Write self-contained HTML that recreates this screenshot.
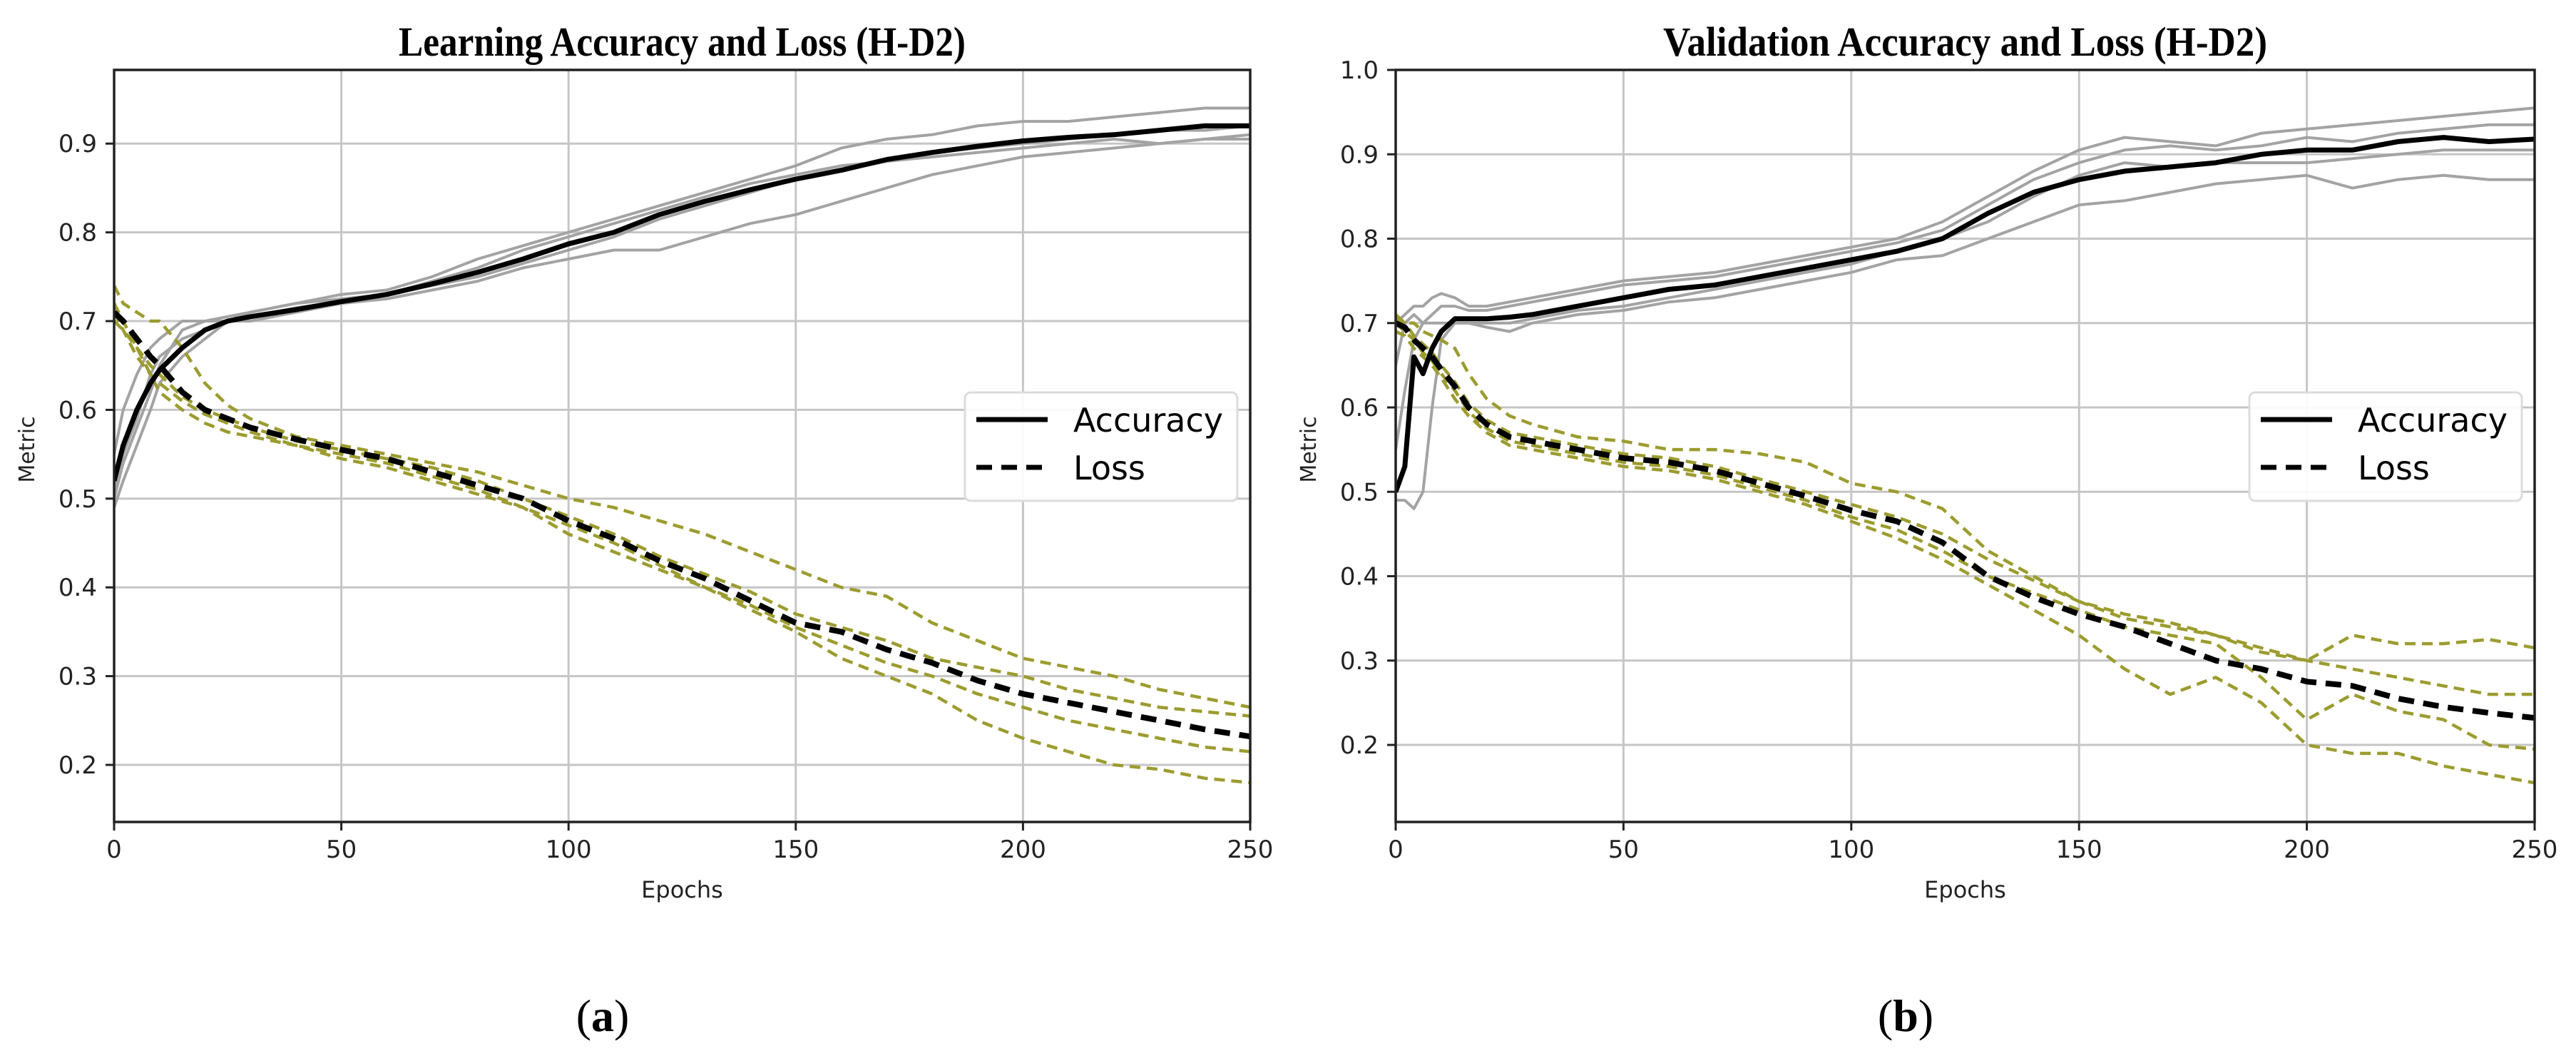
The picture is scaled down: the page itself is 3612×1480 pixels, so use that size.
<!DOCTYPE html>
<html><head><meta charset="utf-8"><style>
html,body{margin:0;padding:0;background:#fff;}
svg{display:block;}
</style></head><body>
<svg id="fig" width="3612" height="1480" viewBox="0 0 3612 1480" xmlns="http://www.w3.org/2000/svg"></svg>
<script>
// ---------- data: chart (a) learning ----------
const epochsL = [0,2,5,8,10,15,20,25,30,40,50,60,70,80,90,100,110,120,130,140,150,160,170,180,190,200,210,220,230,240,250];
const accMeanL = [0.52,0.56,0.60,0.63,0.645,0.67,0.69,0.70,0.705,0.713,0.722,0.73,0.742,0.755,0.77,0.787,0.80,0.82,0.835,0.848,0.86,0.87,0.882,0.89,0.897,0.903,0.907,0.91,0.915,0.92,0.92];
const accRunL1 = [0.55,0.60,0.64,0.67,0.68,0.70,0.70,0.705,0.71,0.72,0.73,0.735,0.75,0.77,0.785,0.80,0.815,0.83,0.845,0.86,0.875,0.895,0.905,0.91,0.92,0.925,0.925,0.93,0.935,0.94,0.94];
const accRunL2 = [0.49,0.52,0.56,0.60,0.63,0.66,0.68,0.70,0.70,0.71,0.72,0.725,0.735,0.745,0.76,0.77,0.78,0.78,0.795,0.81,0.82,0.835,0.85,0.865,0.875,0.885,0.89,0.895,0.90,0.905,0.905];
const accRunL3 = [0.51,0.55,0.59,0.64,0.66,0.68,0.69,0.70,0.71,0.72,0.725,0.73,0.745,0.76,0.78,0.795,0.81,0.825,0.84,0.855,0.865,0.875,0.88,0.885,0.89,0.895,0.90,0.905,0.90,0.905,0.91];
const accRunL4 = [0.50,0.54,0.58,0.62,0.65,0.69,0.70,0.70,0.705,0.715,0.722,0.73,0.74,0.75,0.765,0.78,0.795,0.815,0.83,0.845,0.86,0.87,0.88,0.89,0.895,0.90,0.905,0.91,0.915,0.915,0.92];
const lossMeanL = [0.71,0.70,0.68,0.66,0.65,0.62,0.60,0.59,0.58,0.567,0.555,0.545,0.53,0.515,0.50,0.475,0.455,0.43,0.41,0.385,0.36,0.35,0.33,0.315,0.295,0.28,0.27,0.26,0.25,0.24,0.232];
const lossRunL1 = [0.74,0.72,0.71,0.70,0.70,0.67,0.63,0.605,0.59,0.57,0.56,0.55,0.54,0.53,0.515,0.50,0.49,0.475,0.46,0.44,0.42,0.40,0.39,0.36,0.34,0.32,0.31,0.30,0.285,0.275,0.265];
const lossRunL2 = [0.72,0.70,0.67,0.64,0.62,0.60,0.585,0.575,0.57,0.56,0.545,0.535,0.52,0.505,0.49,0.46,0.44,0.42,0.40,0.375,0.35,0.32,0.30,0.28,0.25,0.23,0.215,0.20,0.195,0.185,0.18];
const lossRunL3 = [0.71,0.69,0.66,0.64,0.63,0.61,0.595,0.585,0.575,0.56,0.55,0.54,0.525,0.51,0.49,0.47,0.45,0.425,0.40,0.38,0.355,0.335,0.315,0.30,0.28,0.265,0.25,0.24,0.23,0.22,0.215];
const lossRunL4 = [0.70,0.69,0.67,0.65,0.64,0.615,0.60,0.59,0.58,0.565,0.555,0.545,0.535,0.52,0.50,0.48,0.46,0.435,0.415,0.395,0.37,0.355,0.34,0.32,0.31,0.30,0.285,0.275,0.265,0.26,0.255];
const yTicksL = [0.2,0.3,0.4,0.5,0.6,0.7,0.8,0.9];
// ---------- data: chart (b) validation ----------
const epochsR = [0,2,4,6,8,10,13,16,20,25,30,40,50,60,70,80,90,100,110,120,130,140,150,160,170,180,190,200,210,220,230,240,250];
const accMeanR = [0.50,0.53,0.66,0.64,0.67,0.69,0.705,0.705,0.705,0.707,0.71,0.72,0.73,0.74,0.745,0.755,0.765,0.775,0.785,0.80,0.83,0.855,0.87,0.88,0.885,0.89,0.90,0.905,0.905,0.915,0.92,0.915,0.918];
const accRunR1 = [0.70,0.71,0.72,0.72,0.73,0.735,0.73,0.72,0.72,0.725,0.73,0.74,0.75,0.755,0.76,0.77,0.78,0.79,0.80,0.82,0.85,0.88,0.905,0.92,0.915,0.91,0.925,0.93,0.935,0.94,0.945,0.95,0.955];
const accRunR2 = [0.49,0.49,0.48,0.50,0.60,0.68,0.70,0.70,0.695,0.69,0.70,0.71,0.715,0.725,0.73,0.74,0.75,0.76,0.775,0.78,0.80,0.82,0.84,0.845,0.855,0.865,0.87,0.875,0.86,0.87,0.875,0.87,0.87];
const accRunR3 = [0.55,0.62,0.68,0.70,0.70,0.70,0.70,0.70,0.70,0.70,0.705,0.715,0.72,0.73,0.74,0.75,0.76,0.77,0.785,0.80,0.82,0.85,0.875,0.89,0.885,0.89,0.89,0.89,0.895,0.90,0.905,0.905,0.905];
const accRunR4 = [0.65,0.70,0.71,0.70,0.71,0.72,0.72,0.715,0.715,0.72,0.725,0.735,0.745,0.75,0.755,0.765,0.775,0.785,0.795,0.81,0.84,0.87,0.89,0.905,0.91,0.905,0.91,0.92,0.915,0.925,0.93,0.935,0.935];
const lossMeanR = [0.70,0.695,0.68,0.67,0.66,0.645,0.625,0.60,0.58,0.565,0.56,0.55,0.54,0.535,0.525,0.51,0.495,0.478,0.465,0.44,0.40,0.375,0.355,0.34,0.32,0.30,0.29,0.275,0.27,0.255,0.245,0.238,0.232];
const lossRunR1 = [0.71,0.70,0.70,0.69,0.685,0.68,0.67,0.64,0.61,0.59,0.58,0.565,0.56,0.55,0.55,0.545,0.535,0.51,0.50,0.48,0.43,0.40,0.37,0.35,0.34,0.33,0.31,0.30,0.33,0.32,0.32,0.325,0.315];
const lossRunR2 = [0.69,0.685,0.67,0.66,0.65,0.635,0.61,0.59,0.57,0.555,0.55,0.54,0.53,0.525,0.515,0.50,0.485,0.465,0.445,0.42,0.39,0.36,0.33,0.29,0.26,0.28,0.25,0.20,0.19,0.19,0.175,0.165,0.155];
const lossRunR3 = [0.70,0.69,0.68,0.665,0.655,0.64,0.62,0.595,0.575,0.56,0.555,0.545,0.535,0.53,0.52,0.505,0.49,0.47,0.455,0.43,0.40,0.38,0.36,0.34,0.33,0.32,0.28,0.23,0.26,0.24,0.23,0.20,0.195];
const lossRunR4 = [0.705,0.70,0.685,0.675,0.665,0.65,0.63,0.605,0.585,0.57,0.565,0.555,0.545,0.54,0.53,0.515,0.50,0.485,0.47,0.45,0.42,0.395,0.37,0.355,0.345,0.33,0.315,0.30,0.29,0.28,0.27,0.26,0.26];
const yTicksR = [0.2,0.3,0.4,0.5,0.6,0.7,0.8,0.9,1.0];
const xTicks = [0,50,100,150,200,250];

const NS = "http://www.w3.org/2000/svg";
const svg = document.getElementById('fig');
function mk(tag, attrs, parent){
  const e = document.createElementNS(NS, tag);
  for (const k in attrs) e.setAttribute(k, attrs[k]);
  (parent||svg).appendChild(e);
  return e;
}

function drawChart(cfg){
  const g = mk('g', {});
  
  
  const xs = v => cfg.x0 + (v - 0) / 250 * (cfg.x1 - cfg.x0);
  const ys = v => cfg.y1 - (v - cfg.ymin) / (cfg.ymax - cfg.ymin) * (cfg.y1 - cfg.y0);
  // title
  const t = mk('text', {x:(cfg.x0+cfg.x1)/2, y:78, 'text-anchor':'middle', 'font-family':'"Liberation Serif", serif', 'font-weight':'bold', 'font-size':58, textLength:cfg.titleW, lengthAdjust:'spacingAndGlyphs', fill:'#000'}, g);
  t.textContent = cfg.title;
  
  
  // clip
  const cp = mk('clipPath', {id:'clip-'+cfg.id}, g);
  mk('rect', {x:cfg.x0, y:cfg.y0, width:cfg.x1-cfg.x0, height:cfg.y1-cfg.y0}, cp);
  // grid
  const grid = mk('g', {stroke:'#c6c6c6', 'stroke-width':3}, g);
  
  
  xTicks.forEach(v => { mk('line', {x1:xs(v), x2:xs(v), y1:cfg.y0, y2:cfg.y1}, grid); });
  cfg.yTicks.forEach(v => { mk('line', {x1:cfg.x0, x2:cfg.x1, y1:ys(v), y2:ys(v)}, grid); });
  // series
  const plot = mk('g', {'clip-path':'url(#clip-'+cfg.id+')', fill:'none', 'stroke-linejoin':'round'}, g);
  const pts = arr => arr.map((v,i)=> xs(cfg.epochs[i]).toFixed(1)+','+ys(v).toFixed(1)).join(' ');
  cfg.accRuns.forEach((r,i) => {
    const p = mk('polyline', {points:pts(r), stroke:'#a3a3a3', 'stroke-width':4}, plot);
    
    
  });
  cfg.lossRuns.forEach((r,i) => {
    const p = mk('polyline', {points:pts(r), stroke:'#9c9c30', 'stroke-width':4.5, 'stroke-dasharray':'15 9'}, plot);
    
    
  });
  const am = mk('polyline', {points:pts(cfg.accMean), stroke:'#000', 'stroke-width':7}, plot);
  
  
  const lm = mk('polyline', {points:pts(cfg.lossMean), stroke:'#000', 'stroke-width':8, 'stroke-dasharray':'22 13'}, plot);
  
  
  // frame
  const fr = mk('rect', {x:cfg.x0, y:cfg.y0, width:cfg.x1-cfg.x0, height:cfg.y1-cfg.y0, fill:'none', stroke:'#222', 'stroke-width':3.5}, g);
  
  
  // ticks
  const tk = mk('g', {}, g);
  
  
  xTicks.forEach(v => {
    mk('line', {x1:xs(v), x2:xs(v), y1:cfg.y1, y2:cfg.y1+12, stroke:'#222', 'stroke-width':3}, tk);
    const l = mk('text', {x:xs(v), y:cfg.y1+50, 'text-anchor':'middle', 'font-family':'"DejaVu Sans", sans-serif', 'font-size':34, fill:'#222'}, tk);
    l.textContent = String(v);
  });
  cfg.yTicks.forEach(v => {
    mk('line', {x1:cfg.x0-12, x2:cfg.x0, y1:ys(v), y2:ys(v), stroke:'#222', 'stroke-width':3}, tk);
    const l = mk('text', {x:cfg.x0-24, y:ys(v)+12, 'text-anchor':'end', 'font-family':'"DejaVu Sans", sans-serif', 'font-size':34, fill:'#222'}, tk);
    l.textContent = v.toFixed(1);
  });
  // axis labels
  const xl = mk('text', {x:(cfg.x0+cfg.x1)/2, y:1258, 'text-anchor':'middle', 'font-family':'"DejaVu Sans", sans-serif', 'font-size':32, fill:'#222'}, g);
  xl.textContent = 'Epochs';
  
  
  const yl = mk('text', {x:0, y:0, transform:'translate('+(cfg.x0-112)+',630) rotate(-90)', 'text-anchor':'middle', 'font-family':'"DejaVu Sans", sans-serif', 'font-size':30, fill:'#222'}, g);
  yl.textContent = 'Metric';
  
  
  // legend
  const lg = mk('g', {}, g);
  
  
  const lx = cfg.x1 - 400, ly = 550;
  mk('rect', {x:lx, y:ly, width:382, height:152, rx:8, fill:'#fff', 'fill-opacity':0.9, stroke:'#dcdcdc', 'stroke-width':3}, lg);
  mk('line', {x1:lx+16, x2:lx+116, y1:ly+38, y2:ly+38, stroke:'#000', 'stroke-width':7}, lg);
  mk('line', {x1:lx+16, x2:lx+116, y1:ly+105, y2:ly+105, stroke:'#000', 'stroke-width':7, 'stroke-dasharray':'22 13'}, lg);
  const e1 = mk('text', {x:lx+152, y:ly+55, 'font-family':'"DejaVu Sans", sans-serif', 'font-size':46, fill:'#000'}, lg);
  e1.textContent = 'Accuracy';
  
  
  const e2 = mk('text', {x:lx+152, y:ly+122, 'font-family':'"DejaVu Sans", sans-serif', 'font-size':46, fill:'#000'}, lg);
  e2.textContent = 'Loss';
  
  
  // panel label
  const pl = mk('text', {x:cfg.panelX, y:1445, 'text-anchor':'middle', 'font-family':'"Liberation Serif", serif', 'font-size':64, fill:'#000'}, g);
  pl.innerHTML = '(<tspan font-weight="bold">' + cfg.panel + '</tspan>)';
  
  
}

drawChart({id:'learning', title:'Learning Accuracy and Loss (H-D2)', titleW:795, x0:160, x1:1753, y0:98, y1:1152, ymin:0.1357, ymax:0.983, yTicks:yTicksL, epochs:epochsL, accMean:accMeanL, accRuns:[accRunL1,accRunL2,accRunL3,accRunL4], lossMean:lossMeanL, lossRuns:[lossRunL1,lossRunL2,lossRunL3,lossRunL4], panel:'a', panelX:845});
drawChart({id:'validation', title:'Validation Accuracy and Loss (H-D2)', titleW:847, x0:1957, x1:3554, y0:98, y1:1152, ymin:0.1087, ymax:1.0, yTicks:yTicksR, epochs:epochsR, accMean:accMeanR, accRuns:[accRunR1,accRunR2,accRunR3,accRunR4], lossMean:lossMeanR, lossRuns:[lossRunR1,lossRunR2,lossRunR3,lossRunR4], panel:'b', panelX:2672});
</script>
</body></html>
